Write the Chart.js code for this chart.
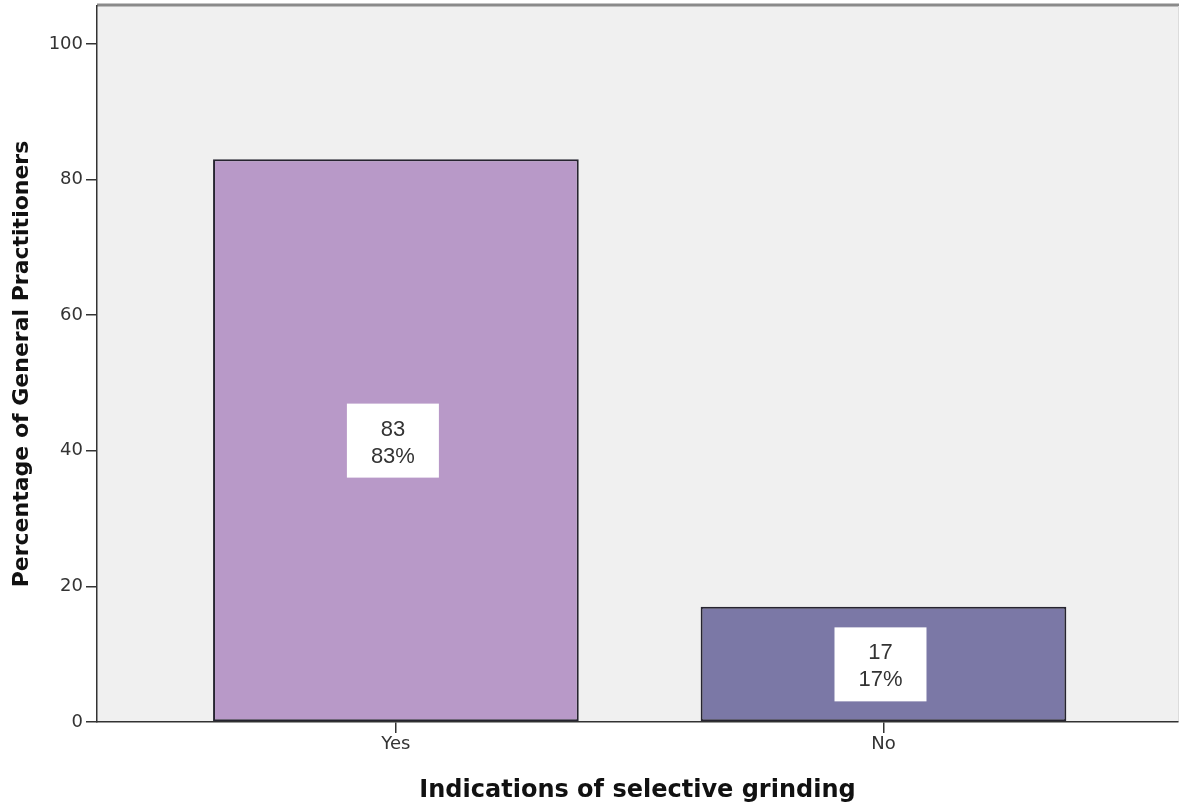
<!DOCTYPE html>
<html>
<head>
<meta charset="utf-8">
<script src="https://cdn.jsdelivr.net/npm/chart.js@4"></script>
<style>
  html, body { margin: 0; padding: 0; background: #fff; }
  #wrap { width: 1179px; height: 807px; }
</style>
</head>
<body>
<div id="wrap"><canvas id="gpChart" width="1179" height="807"></canvas></div>
<script>
// data
const categories = ["Yes", "No"];
const counts = [83, 17];
const percents = [83, 17];
const yTicks = [0, 20, 40, 60, 80, 100];
const barColors = ["#b899c8", "#7b78a6"];

// plot background + frame + value boxes
const frame = {
  id: "frame",
  beforeDraw(chart) {
    const { ctx, chartArea: a } = chart;
    ctx.save();
    ctx.fillStyle = "#f0f0f0";
    ctx.fillRect(a.left, a.top, a.right - a.left, a.bottom - a.top);
    ctx.strokeStyle = "#8a8a8a";
    ctx.lineWidth = 3;
    ctx.beginPath();
    ctx.moveTo(a.left, a.top - 1);
    ctx.lineTo(a.right + 1, a.top - 1);
    ctx.stroke();
    ctx.strokeStyle = "#dcdcdc";
    ctx.lineWidth = 1;
    ctx.beginPath();
    ctx.moveTo(a.right + 0.5, a.top);
    ctx.lineTo(a.right + 0.5, a.bottom);
    ctx.stroke();
    ctx.restore();
  },
  afterDatasetsDraw(chart) {
    const { ctx } = chart;
    const meta = chart.getDatasetMeta(0);
    const yScale = chart.scales.y;
    ctx.save();
    ctx.font = "22px 'Liberation Sans', Arial, sans-serif";
    ctx.textAlign = "center";
    ctx.textBaseline = "middle";
    meta.data.forEach((bar, i) => {
      const cx = bar.x - 3;
      const cy = yScale.getPixelForValue(percents[i] / 2);
      ctx.fillStyle = "#ffffff";
      ctx.fillRect(cx - 46, cy - 37, 92, 74);
      ctx.fillStyle = "#333333";
      ctx.fillText(String(counts[i]), cx, cy - 11);
      ctx.fillText(percents[i] + "%", cx, cy + 16);
    });
    ctx.restore();
  }
};

new Chart(document.getElementById("gpChart").getContext("2d"), {
  type: "bar",
  data: {
    datasets: [{
      data: categories.map((c, i) => ({ x: i + 1, y: percents[i] })),
      backgroundColor: barColors,
      borderColor: "#262430",
      borderWidth: 2,
      borderSkipped: false,
      barPercentage: 0.75,
      categoryPercentage: 1
    }]
  },
  options: {
    responsive: false,
    animation: false,
    layout: { padding: { top: 6, right: 1, left: 0, bottom: 0 } },
    plugins: { legend: { display: false }, tooltip: { enabled: false } },
    scales: {
      x: {
        type: "linear",
        offset: false,
        min: 0.387,
        max: 2.604,
        afterBuildTicks: s => { s.ticks = categories.map((c, i) => ({ value: i + 1 })); },
        afterFit: s => { s.height = 85; },
        ticks: {
          callback: v => categories[v - 1],
          color: "#333",
          font: { family: "'DejaVu Sans', Verdana, sans-serif", size: 18 },
          padding: 1
        },
        grid: { offset: false, drawOnChartArea: false, drawTicks: true, tickLength: 11, color: "#333", lineWidth: 1.5 },
        border: { display: true, color: "#333", width: 1.5 },
        title: {
          display: true,
          text: "Indications of selective grinding",
          color: "#111",
          font: { family: "'DejaVu Sans', Verdana, sans-serif", size: 24, weight: "bold" },
          padding: { top: 0, bottom: 2 }
        }
      },
      y: {
        min: 0,
        max: 105.6,
        afterBuildTicks: s => { s.ticks = yTicks.map(v => ({ value: v })); },
        afterFit: s => { s.width = 97; s.paddingTop = 0; s.paddingBottom = 0; },
        ticks: {
          color: "#333",
          font: { family: "'DejaVu Sans', Verdana, sans-serif", size: 18 },
          padding: 3
        },
        grid: { drawOnChartArea: false, drawTicks: true, tickLength: 11, color: "#333", lineWidth: 1.5 },
        border: { display: true, color: "#333", width: 1.5 },
        title: {
          display: true,
          text: "Percentage of General Practitioners",
          color: "#111",
          font: { family: "'DejaVu Sans', Verdana, sans-serif", size: 22, weight: "bold" },
          padding: { top: 9, bottom: 0 }
        }
      }
    }
  },
  plugins: [frame]
});
</script>
</body>
</html>
